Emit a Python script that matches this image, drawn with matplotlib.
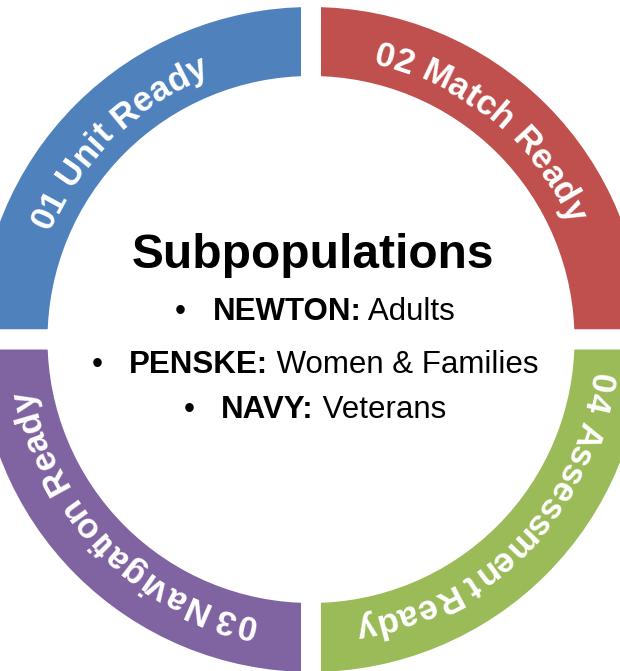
import numpy as np
import matplotlib.pyplot as plt
from matplotlib.font_manager import FontProperties

W, H = 620, 671

# the four stages of the ring, read clockwise from top-left
stages = ['01 Unit Ready', '02 Match Ready', '04 Assessment Ready', '03 Navigation Ready']
stage_colors = ['#4F81BD', '#C0504D', '#9BBB59', '#8064A2']
stage_shares = [1, 1, 1, 1]
label_angles = [134.2, 50.7, 316.1, 224.6]  # where each label is centred, degrees

title = 'Subpopulations'
groups = ['NEWTON:', 'PENSKE:', 'NAVY:']
group_desc = [' Adults', ' Women & Families', ' Veterans']

fam = ['Liberation Sans', 'DejaVu Sans']
cx, cy = 311, H - 339.5
r_out, r_in = 332.5, 263.5
gap = 20  # px of white between quadrants

fig = plt.figure(figsize=(6.2, 6.71), dpi=100)
ax = fig.add_axes([0, 0, 1, 1])

# ring: pie with a thick white edge gives the straight gaps
ax.pie(stage_shares, colors=stage_colors, startangle=180, counterclock=False,
       radius=r_out + gap / 2, center=(cx, cy),
       wedgeprops=dict(width=(r_out - r_in) + gap, edgecolor='white',
                       linewidth=gap * 72 / 100))

ax.set_xlim(0, W)
ax.set_ylim(0, H)
ax.set_aspect('equal')
ax.axis('off')

rend = fig.canvas.get_renderer()


def text_w(s, fp):
    a = rend.get_text_width_height_descent('|' + s + '|', fp, False)[0]
    b = rend.get_text_width_height_descent('||', fp, False)[0]
    return a - b


def arc_text(label, mid_deg, r_base, size):
    fp = FontProperties(family=fam, weight='bold', size=size)
    widths = [text_w(c, fp) for c in label]
    total = sum(widths)
    start = np.radians(mid_deg) + total / r_base / 2
    pos = 0
    for c, w in zip(label, widths):
        th = start - (pos + w / 2) / r_base
        pos += w
        if c == ' ':
            continue
        ax.text(cx + r_base * np.cos(th), cy + r_base * np.sin(th), c,
                fontproperties=fp, color='white', ha='center', va='baseline',
                rotation=np.degrees(th) - 90, rotation_mode='anchor')


for lab, ang in zip(stages, label_angles):
    arc_text(lab, ang, 282.5, 25)

# centre text
ax.text(313, H - 268, title, ha='center', va='baseline', fontsize=34.5,
        fontweight='bold', family=fam, color='black')

fp_b = FontProperties(family=fam, weight='bold', size=22.5)
fp_r = FontProperties(family=fam, size=22.5)
baselines = [320.5, 373, 417.5]
bw = text_w('\u2022', fp_r)
for g, d, yb in zip(groups, group_desc, baselines):
    wb = text_w(g, fp_b)
    wr = text_w(d, fp_r)
    x0 = 315 - (wb + wr - 32 - bw / 2) / 2
    ax.text(x0 - 32, H - yb, '\u2022', ha='center', va='baseline',
            fontproperties=fp_r, color='black')
    ax.text(x0, H - yb, g, ha='left', va='baseline', fontproperties=fp_b,
            color='black')
    ax.text(x0 + wb, H - yb, d, ha='left', va='baseline', fontproperties=fp_r,
            color='black')

fig.savefig('out.png', dpi=100)
